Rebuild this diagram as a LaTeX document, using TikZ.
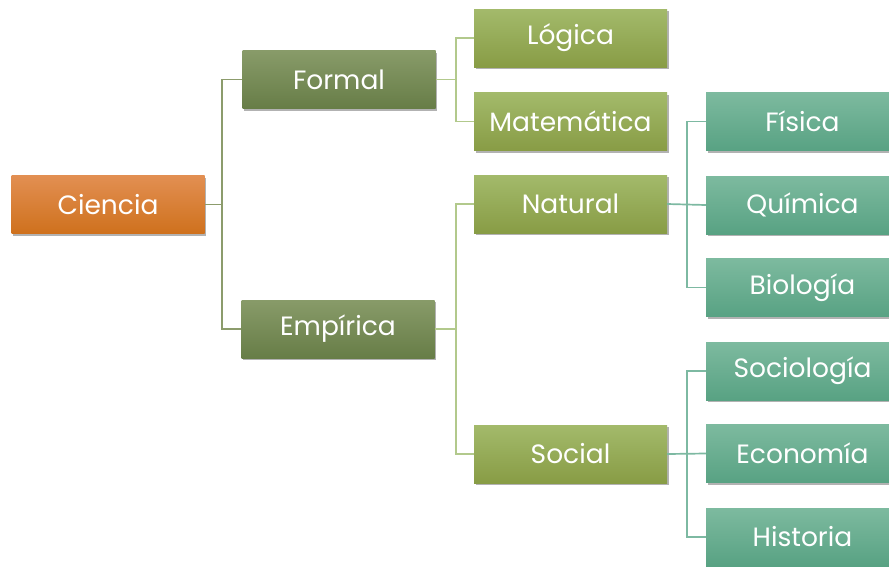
\documentclass[tikz,border=0pt]{standalone}
\usepackage{fontspec}
\setmainfont{Poppins}
\usetikzlibrary{shadows}
\definecolor{orTop}{HTML}{E28F52}
\definecolor{orBot}{HTML}{CF711D}
\definecolor{olTop}{HTML}{889B69}
\definecolor{olBot}{HTML}{677D47}
\definecolor{grTop}{HTML}{A3BA6B}
\definecolor{grBot}{HTML}{889C45}
\definecolor{tlTop}{HTML}{7DBA9F}
\definecolor{tlBot}{HTML}{58A283}
\definecolor{lnOl}{HTML}{8C9C6C}
\definecolor{lnGr}{HTML}{B2C98C}
\definecolor{lnTl}{HTML}{7DB9A2}
\begin{document}
\begin{tikzpicture}[x=1pt,y=-1pt,
  box/.style={rectangle, minimum width=193pt, minimum height=58pt, inner sep=0pt,
    text=white, font=\fontsize{26.5}{30}\selectfont,
    drop shadow={shadow xshift=1.5pt, shadow yshift=-2pt, opacity=0.3, fill=black}},
  boxor/.style={box, top color=orTop, bottom color=orBot},
  boxol/.style={box, top color=olTop, bottom color=olBot},
  boxgr/.style={box, top color=grTop, bottom color=grBot},
  boxtl/.style={box, top color=tlTop, bottom color=tlBot},
  conol/.style={draw=lnOl, line width=1.7pt},
  congr/.style={draw=lnGr, line width=1.7pt},
  contl/.style={draw=lnTl, line width=1.7pt}]
\useasboundingbox (0,0) rectangle (889,566);
\node[boxor] (ciencia) at (108,204.5) {Ciencia};
\node[boxol] (formal) at (339,79.5) {Formal};
\node[boxol] (empirica) at (338,329) {Empírica};
\node[boxgr] (logica) at (570.5,38) {Lógica};
\node[boxgr] (mate) at (570.5,121.5) {Matemática};
\node[boxgr] (natural) at (570.5,204) {Natural};
\node[boxgr] (social) at (570.5,454) {Social};
\node[boxtl] (fisica) at (802.5,121.5) {Física};
\node[boxtl] (quimica) at (802.5,205) {Química};
\node[boxtl] (biologia) at (802.5,287.5) {Biología};
\node[boxtl] (sociologia) at (802.5,371) {Sociología};
\node[boxtl] (economia) at (802.5,453.5) {Economía};
\node[boxtl] (historia) at (802.5,537) {Historia};
% connectors
\path (ciencia.east) -- ++(17,0) coordinate (j1);
\draw[conol] (ciencia.east) -- (j1);
\draw[conol] (j1) |- (formal.west);
\draw[conol] (j1) |- (empirica.west);
\path (formal.east) -- ++(20,0) coordinate (j2);
\draw[congr] (formal.east) -- (j2);
\draw[congr] (j2) |- (logica.west);
\draw[congr] (j2) |- (mate.west);
\path (empirica.east) -- ++(21,0) coordinate (j3);
\draw[congr] (empirica.east) -- (j3);
\draw[congr] (j3) |- (natural.west);
\draw[congr] (j3) |- (social.west);
\path (natural.east) -- ++(20,0) coordinate (j4);
\draw[contl] (natural.east) -- (quimica.west);
\draw[contl] (j4) |- (fisica.west);
\draw[contl] (j4) |- (biologia.west);
\path (social.east) -- ++(20,0) coordinate (j5);
\draw[contl] (social.east) -- (economia.west);
\draw[contl] (j5) |- (sociologia.west);
\draw[contl] (j5) |- (historia.west);
\end{tikzpicture}
\end{document}
